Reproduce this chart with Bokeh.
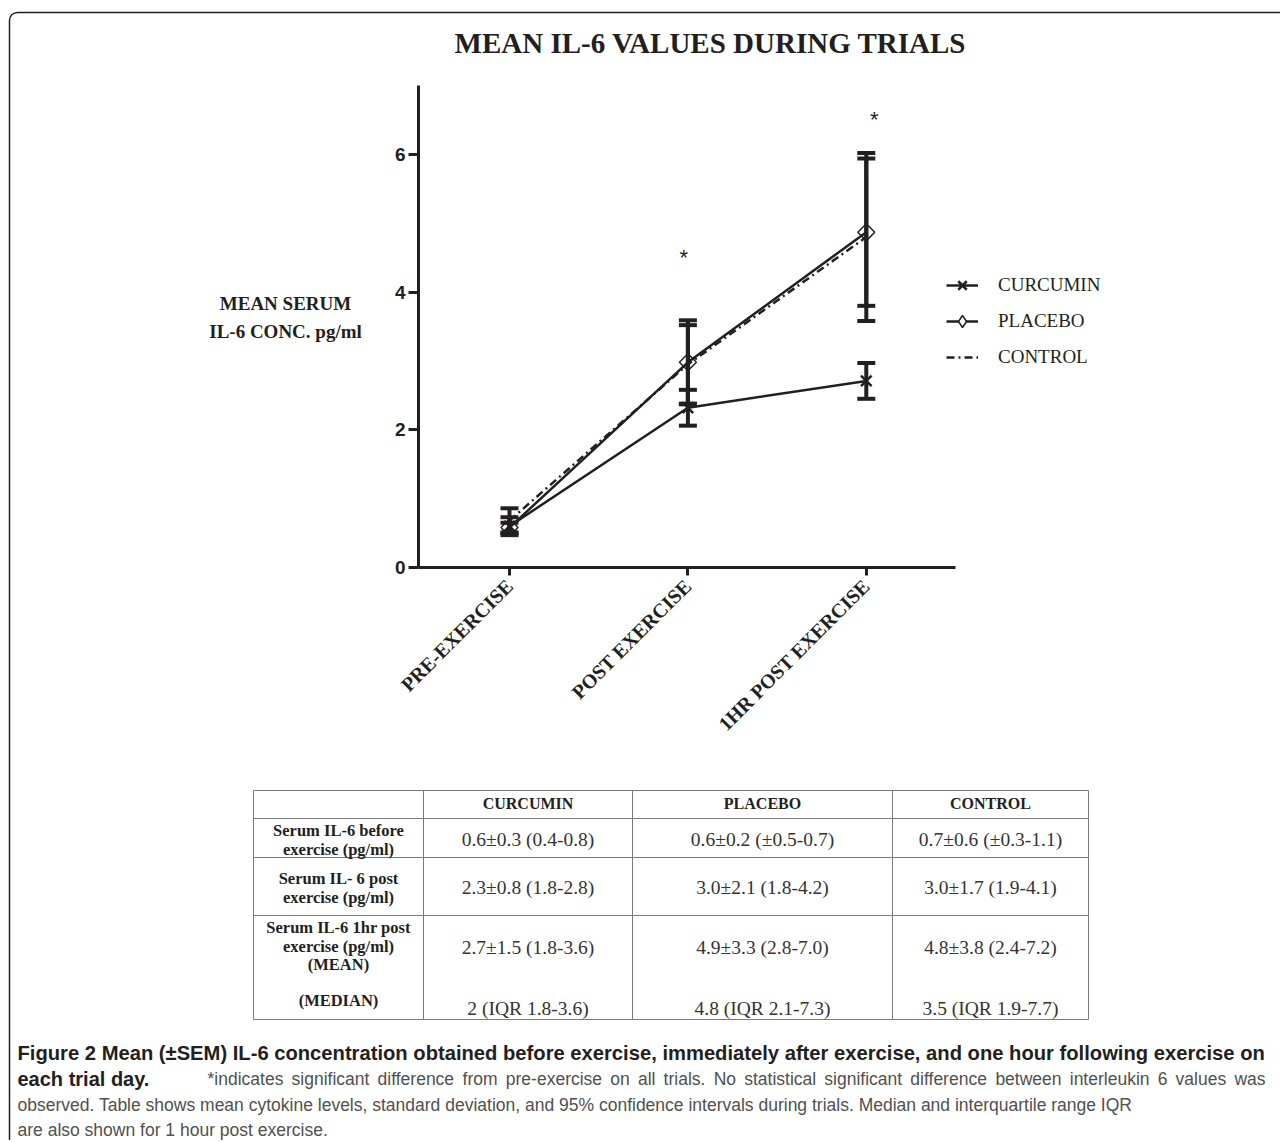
import numpy as np
from bokeh.plotting import figure
from bokeh.models import (Range1d, FixedTicker, Label, Legend, LegendItem,
                          BoxAnnotation)
from bokeh.embed import file_html
from bokeh.resources import INLINE

# ---------------- data ----------------
categories = ["PRE-EXERCISE", "POST EXERCISE", "1HR POST EXERCISE"]
curcumin_mean = [0.60, 2.32, 2.71]
curcumin_sem = [0.13, 0.26, 0.26]
placebo_mean = [0.58, 2.98, 4.87]
placebo_sem = [0.07, 0.61, 1.07]
control_mean = [0.68, 2.95, 4.80]
control_sem = [0.18, 0.57, 1.22]
y_ticks = [0, 2, 4, 6]
signif_index = [1, 2]          # categories marked with *
signif_height = [4.5, 6.5]

title_text = "MEAN IL-6 VALUES DURING TRIALS"
ylabel_lines = ["MEAN SERUM", "IL-6 CONC. pg/ml"]
legend_labels = ["CURCUMIN", "PLACEBO", "CONTROL"]

table_cols = ["CURCUMIN", "PLACEBO", "CONTROL"]
table_row_labels = [
    ["Serum IL-6 before", "exercise (pg/ml)"],
    ["Serum IL- 6 post", "exercise (pg/ml)"],
    ["Serum IL-6 1hr post", "exercise (pg/ml)", "(MEAN)"],
    ["(MEDIAN)"],
]
table_values = [
    ["0.6\u00b10.3 (0.4-0.8)", "0.6\u00b10.2 (\u00b10.5-0.7)", "0.7\u00b10.6 (\u00b10.3-1.1)"],
    ["2.3\u00b10.8 (1.8-2.8)", "3.0\u00b12.1 (1.8-4.2)", "3.0\u00b11.7 (1.9-4.1)"],
    ["2.7\u00b11.5 (1.8-3.6)", "4.9\u00b13.3 (2.8-7.0)", "4.8\u00b13.8 (2.4-7.2)"],
    ["2 (IQR 1.8-3.6)", "4.8 (IQR 2.1-7.3)", "3.5 (IQR 1.9-7.7)"],
]

caption_line1 = ("Figure 2 Mean (\u00b1SEM) IL-6 concentration obtained before exercise, "
                 "immediately after exercise, and one hour following exercise on")
caption_line2_bold = "each trial day."
caption_line2 = ("*indicates significant difference from pre-exercise on all trials. "
                 "No statistical significant difference between interleukin 6 values was")
caption_line3 = ("observed. Table shows mean cytokine levels, standard deviation, and 95% "
                 "confidence intervals during trials. Median and interquartile range IQR")
caption_line4 = "are also shown for 1 hour post exercise."

# ---------------- style / layout ----------------
INK = "#231f20"
SERIF = "Liberation Serif"
SANS = "Liberation Sans"
CAPFONT = "Liberation Sans"

W, H = 1280, 1140
# chart box on the page (px) and its value span
AX_L, AX_R, AX_T, AX_B = 418, 955, 85, 567
X_LO, X_HI, Y_LO, Y_HI = 0.49, 3.5, 0.0, 7.0
kx = (AX_R - AX_L) / (X_HI - X_LO)
ky = (AX_B - AX_T) / (Y_HI - Y_LO)
x_range = Range1d(X_LO - AX_L / kx, X_HI + (W - AX_R) / kx)
y_range = Range1d(Y_LO - (H - AX_B) / ky, Y_HI + AX_T / ky)


def sx(px):
    return px


def sy(py):
    return H - py


xs = [1, 2, 3]

p = figure(width=W, height=H, x_range=x_range, y_range=y_range,
           output_backend="svg", toolbar_location=None,
           min_border_left=0, min_border_right=0, min_border_top=0, min_border_bottom=0)
p.outline_line_color = None
p.grid.visible = False
p.background_fill_color = "white"
p.border_fill_color = "white"

# axes (library axes pinned to the chart box)
p.xaxis.ticker = FixedTicker(ticks=xs)
p.xaxis.major_label_overrides = {i + 1: c for i, c in enumerate(categories)}
p.xaxis.major_label_orientation = np.pi / 4
p.xaxis.fixed_location = Y_LO
p.xaxis.bounds = (X_LO, X_HI)
p.yaxis.ticker = FixedTicker(ticks=y_ticks)
p.yaxis.fixed_location = X_LO
p.yaxis.bounds = (Y_LO, Y_HI)
for ax in (p.xaxis[0], p.yaxis[0]):
    ax.axis_line_color = INK
    ax.axis_line_width = 3
    ax.major_tick_line_color = INK
    ax.major_tick_line_width = 3
    ax.major_tick_in = 0
    ax.minor_tick_line_color = None
    ax.major_label_text_color = INK
p.xaxis.major_tick_out = 8
p.yaxis.major_tick_out = 10
p.xaxis.major_label_text_font = SERIF
p.xaxis.major_label_text_font_style = "bold"
p.xaxis.major_label_text_font_size = "20px"
p.xaxis.major_label_standoff = 7
p.yaxis.major_label_text_font = SANS
p.yaxis.major_label_text_font_style = "bold"
p.yaxis.major_label_text_font_size = "19px"
p.yaxis.major_label_standoff = 3

# series lines
cur_line = p.line(xs, curcumin_mean, line_color=INK, line_width=2.5)
pla_line = p.line(xs, placebo_mean, line_color=INK, line_width=2.5)
con_line = p.line(xs, control_mean, line_color=INK, line_width=2.5, line_dash="8 4 2 4")

# error bars (mean +/- SEM)
for mean, sem in ((control_mean, control_sem), (placebo_mean, placebo_sem),
                  (curcumin_mean, curcumin_sem)):
    lo = [m - s for m, s in zip(mean, sem)]
    hi = [m + s for m, s in zip(mean, sem)]
    p.segment(x0=xs, y0=lo, x1=xs, y1=hi, line_color=INK, line_width=4)
    p.scatter(xs, hi, marker="dash", size=18, line_color=INK, line_width=4)
    p.scatter(xs, lo, marker="dash", size=18, line_color=INK, line_width=4)

# markers
cur_mk = p.scatter(xs, curcumin_mean, marker="x", size=15, line_color=INK, line_width=2.5)
pla_mk = p.scatter(xs, placebo_mean, marker="square", angle=np.pi / 4, size=12,
                   fill_color=None, line_color=INK, line_width=1.5)
# diamond glyph used only for the legend entry (legend swatches ignore marker angle)
pla_key = p.scatter(xs, placebo_mean, marker="diamond", size=16, fill_color="white",
                    line_color=INK, line_width=1.5, visible=False)

# significance asterisks
for idx, h, off in zip(signif_index, signif_height, (-4, 8)):
    p.add_layout(Label(x=xs[idx], y=h, x_offset=off, text="*", text_align="center",
                       text_baseline="middle", text_font=SANS, text_font_size="22px",
                       text_color=INK))

# legend
legend = Legend(items=[
    LegendItem(label=legend_labels[0], renderers=[cur_line, cur_mk]),
    LegendItem(label=legend_labels[1], renderers=[pla_line, pla_key]),
    LegendItem(label=legend_labels[2], renderers=[con_line]),
], location=(sx(946), sy(372)))
legend.border_line_color = None
legend.background_fill_alpha = 0
legend.padding = 0
legend.margin = 0
legend.glyph_width = 32
legend.glyph_height = 30
legend.label_height = 30
legend.spacing = 6
legend.label_standoff = 20
legend.label_text_font = SERIF
legend.label_text_font_size = "19px"
legend.label_text_color = INK
p.add_layout(legend)


def label(px, py, text, font=SERIF, size="16px", style="normal", align="center",
          color=INK, baseline="middle"):
    p.add_layout(Label(x=sx(px), y=sy(py), x_units="screen", y_units="screen", text=text,
                       text_align=align, text_baseline=baseline, text_font=font,
                       text_font_size=size, text_font_style=style, text_color=color))


# title and y label
label(710, 42, title_text, size="29px", style="bold")
label(285, 303, ylabel_lines[0], size="19px", style="bold")
label(285, 331, ylabel_lines[1], size="19px", style="bold")

# table
col_edges = [253, 423, 632, 892, 1088]
row_edges = [790, 818, 857, 915, 1019]
for i in range(len(row_edges) - 1):
    for j in range(len(col_edges) - 1):
        p.add_layout(BoxAnnotation(left=sx(col_edges[j]), right=sx(col_edges[j + 1]),
                                   top=sy(row_edges[i]), bottom=sy(row_edges[i + 1]),
                                   left_units="screen", right_units="screen",
                                   top_units="screen", bottom_units="screen",
                                   fill_color=None, line_color="#7a7a7a", line_alpha=1.0,
                                   line_width=1))
col_centers = [(col_edges[j] + col_edges[j + 1]) / 2 for j in range(4)]
for j, c in enumerate(table_cols):
    label(col_centers[j + 1], 803, c, size="16px", style="bold")
row_label_y = [[830, 849], [878, 897], [927, 946, 964], [1000]]
for lines, ys in zip(table_row_labels, row_label_y):
    for t, yy in zip(lines, ys):
        label(col_centers[0], yy, t, size="16.5px", style="bold")
value_y = [839, 887, 947, 1008]
for vals, yy in zip(table_values, value_y):
    for j, v in enumerate(vals):
        label(col_centers[j + 1], yy, v, size="19.5px", color="#333333")

# ---------------- caption ----------------
CAP_GRAY = "#505050"
CAP_SIZE = 17.5
# Arial / Liberation Sans advance widths (per 1000 em) for justifying one caption line
_AW = {" ": 278, ".": 278, ",": 278, "-": 333, "*": 389, "(": 333, ")": 333,
       "a": 556, "b": 556, "c": 500, "d": 556, "e": 556, "f": 278, "g": 556, "h": 556,
       "i": 222, "j": 222, "k": 500, "l": 222, "m": 833, "n": 556, "o": 556, "p": 556,
       "q": 556, "r": 333, "s": 500, "t": 278, "u": 556, "v": 500, "w": 722, "x": 500,
       "y": 500, "z": 500, "N": 722}


def text_w(s, size):
    return sum(_AW.get(ch, 556) for ch in s) * size / 1000.0


label(17, 1052, caption_line1, font=CAPFONT, size="20.2px", style="bold", align="left")
label(17, 1078, caption_line2_bold, font=CAPFONT, size="20px", style="bold", align="left")
# justified regular part of line 2 (word by word between x=207 and x=1265)
words = caption_line2.split()
J_L, J_R = 207, 1265
gap = (J_R - J_L - sum(text_w(w, CAP_SIZE) for w in words)) / (len(words) - 1)
xpos = J_L
for w in words:
    label(xpos, 1078, w, font=CAPFONT, size=f"{CAP_SIZE}px", align="left", color=CAP_GRAY)
    xpos += text_w(w, CAP_SIZE) + gap
label(17, 1104, caption_line3, font=CAPFONT, size=f"{CAP_SIZE}px", align="left",
      color=CAP_GRAY)
label(17, 1129, caption_line4, font=CAPFONT, size=f"{CAP_SIZE}px", align="left",
      color=CAP_GRAY)

# outer frame (rounded top-left, open to the right/bottom)
p.add_layout(BoxAnnotation(left=sx(9), right=sx(W + 40), top=sy(12), bottom=sy(H + 60),
                           left_units="screen", right_units="screen",
                           top_units="screen", bottom_units="screen",
                           fill_color=None, line_color=INK, line_alpha=1.0, line_width=1.5,
                           border_radius=8))

open("out.html", "w").write(file_html(p, INLINE))
